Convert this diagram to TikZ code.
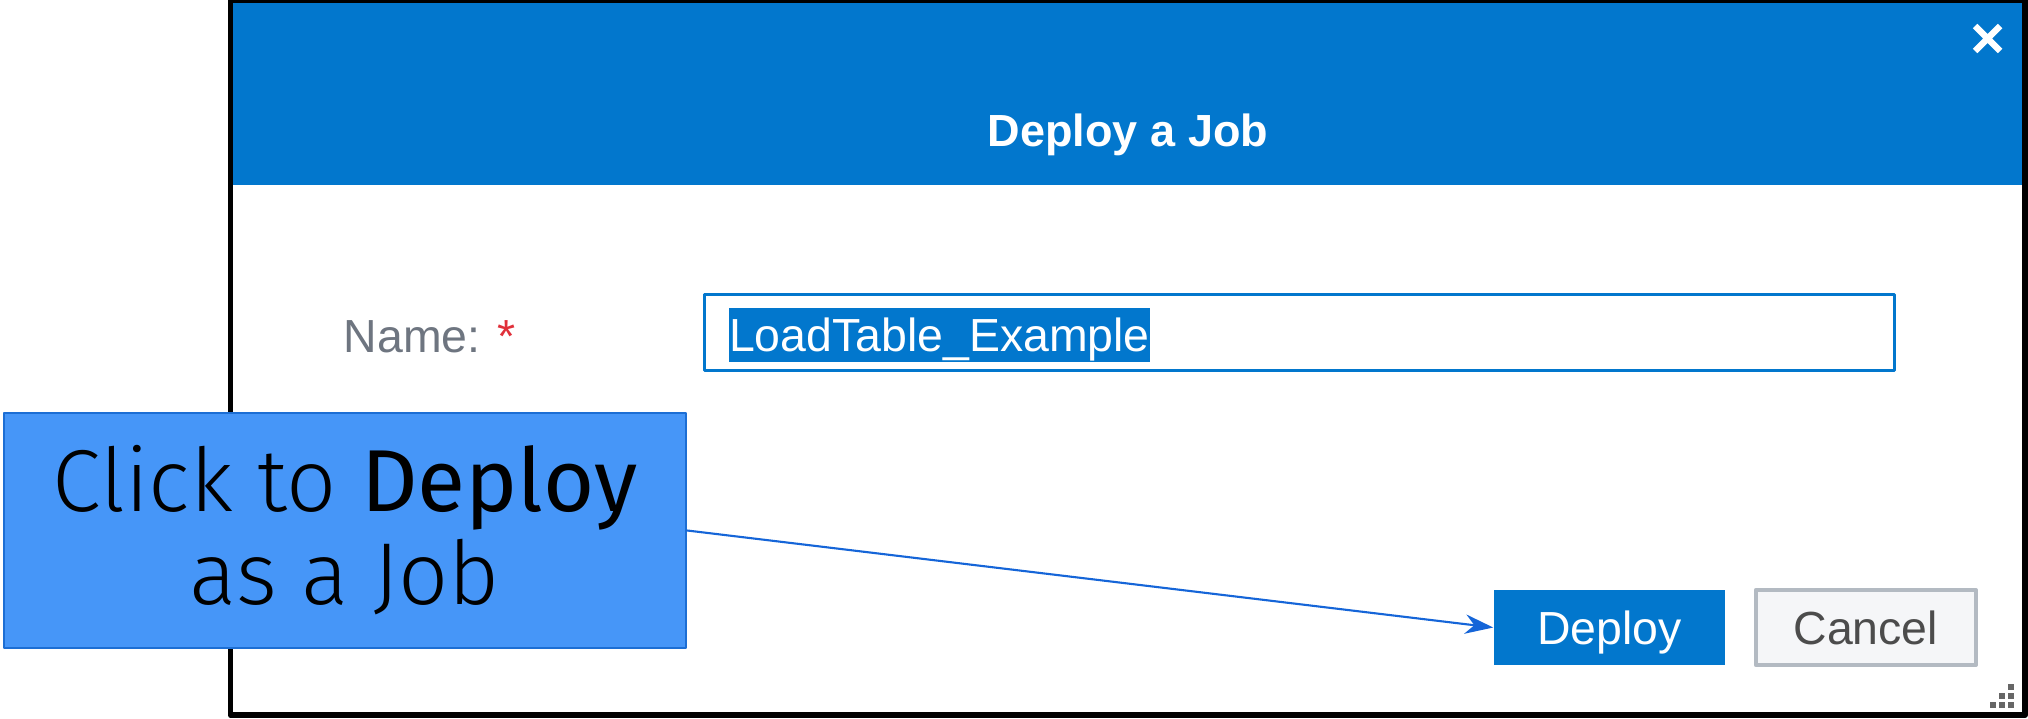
\documentclass[tikz,border=0pt]{standalone}
\usepackage{fontspec}
\setmainfont{Liberation Sans}
\newfontfamily\calloutfont{Fira Sans Light}[BoldFont={Fira Sans}]
\usetikzlibrary{arrows.meta, positioning}
\definecolor{headblue}{HTML}{0277CD}
\definecolor{callblue}{HTML}{4696F8}
\definecolor{calledge}{HTML}{1C6ED4}
\definecolor{arrowblue}{HTML}{1565D8}
\definecolor{namegray}{HTML}{6E7580}
\definecolor{starred}{HTML}{E0303A}
\definecolor{cancelgray}{HTML}{B3BAC2}
\definecolor{cancelfill}{HTML}{F5F6F8}
\definecolor{gripgray}{HTML}{666666}
\tikzset{
  uitext/.style={font=\fontsize{13.2pt}{16pt}\selectfont, inner sep=0pt},
  btnbox/.style={uitext, minimum height=0.75cm, text height=9.6pt, text depth=0pt},
}

\begin{document}
\begin{tikzpicture}[x=0.01cm, y=-0.01cm, line cap=round, line join=round]
      \useasboundingbox (0,0) rectangle (2028,718);

      % Cabecera - Azul
      \fill[headblue] (230,0) rectangle (2025,185);
      \node[uitext, text=white, font=\fontsize{12.8pt}{16pt}\selectfont\bfseries, anchor=base] (title) at (1128,146) {Deploy a Job};
      \draw[white, line width=1.8pt, line cap=butt] (1975,26) -- (2000,51) (1975,51) -- (2000,26);

      % Campo de nombre
      \node[uitext, text=namegray, anchor=base west] (namelbl) at (343,352) {Name: \textcolor{starred}{*}};
      \node[draw=headblue, line width=0.85pt, minimum width=11.89cm, minimum height=0.75cm] (field) at (1299.5,332.5) {};
      \node[uitext, fill=headblue, text=white, minimum width=4.13cm, minimum height=0.54cm,
            text height=9.6pt, text depth=0pt] (value) at (939.5,335) {LoadTable\_Example};

      % Botones
      \node[btnbox, fill=headblue, text=white, minimum width=2.31cm] (deploybtn) at (1609.5,627.5) {Deploy};
      \node[btnbox, draw=cancelgray, fill=cancelfill, line width=1.1pt, text=black!70,
            minimum width=2.2cm, right=0.28cm of deploybtn] (cancelbtn) {Cancel};

      % Esquina
      \foreach \gx/\gy in {2011/687, 2002/696, 2011/696, 1993/705, 2002/705, 2011/705}
        \fill[gripgray] (\gx-3,\gy-3) rectangle (\gx+3,\gy+3);

      % Marco
      \draw[black, line width=1.7pt] (230.5,0) rectangle (2025,715);

      % Nota
      \node[fill=callblue, draw=calledge, line width=0.6pt, minimum width=6.82cm, minimum height=2.35cm,
            align=center, font=\calloutfont\fontsize{25pt}{26.5pt}\selectfont] (callout) at (345,530.5)
            {Click to \textbf{Deploy}\\as a Job};
      \draw[-{Stealth[length=8pt,width=5.5pt]}, arrowblue, line width=0.6pt] (callout.east) -- (deploybtn.west);
    \end{tikzpicture}
\end{document}
